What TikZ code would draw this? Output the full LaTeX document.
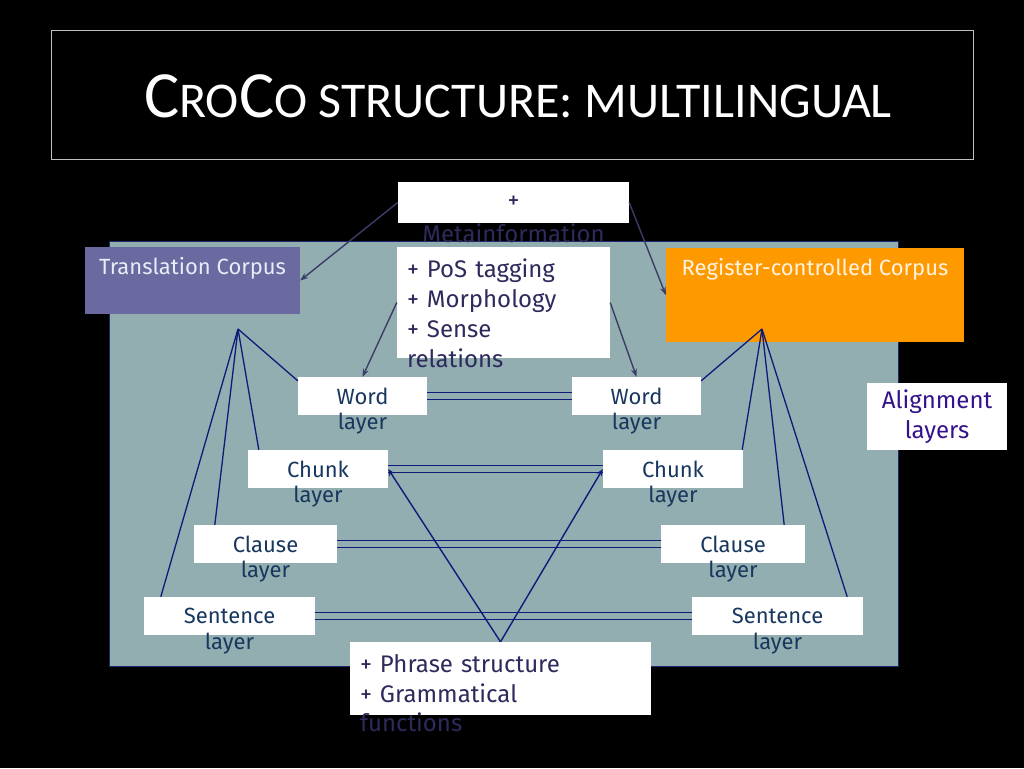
\documentclass[tikz,border=0pt]{standalone}
\usepackage{fontspec}
\setmainfont{Fira Sans}
\newfontfamily\titlefont{Carlito}
\usepackage{tikz}
\usetikzlibrary{arrows.meta}
\definecolor{panelteal}{HTML}{93AEB1}
\definecolor{panelline}{HTML}{1F2A6E}
\definecolor{transfill}{HTML}{6A69A0}
\definecolor{regfill}{HTML}{FF9900}
\definecolor{translabel}{HTML}{E6EEF7}
\definecolor{reglabel}{HTML}{FFF3E0}
\definecolor{layerblue}{HTML}{17375E}
\definecolor{notetext}{HTML}{2D2A5C}
\definecolor{aligntext}{HTML}{34148C}
\definecolor{arrowgrey}{HTML}{3B3D66}
\definecolor{navyline}{HTML}{101A78}
\newcommand{\titlecap}[1]{{\fontsize{66}{66}\selectfont #1}}
\newcommand{\titlesmall}[1]{{\fontsize{50}{50}\selectfont #1}}
\tikzstyle{titlebox} = [rectangle, draw=white!75!black, line width=1pt, minimum width=922pt, minimum height=128pt]
\tikzstyle{titletext} = [text=white, font=\titlefont, inner sep=0pt]
\tikzstyle{panel} = [rectangle, fill=panelteal, draw=panelline, line width=1pt, minimum width=789pt, minimum height=425pt]
\tikzstyle{corpus} = [rectangle, inner sep=0pt]
\tikzstyle{corpuslabel} = [anchor=north, yshift=-10pt, inner sep=0pt, font=\fontsize{22}{26}\selectfont]
\tikzstyle{note} = [rectangle, fill=white, inner sep=0pt, text=notetext, align=left, font=\fontsize{24}{30}\selectfont]
\tikzstyle{notelabel} = [inner sep=0pt, text=notetext, font=\fontsize{24}{30}\selectfont]
\tikzstyle{layer} = [rectangle, fill=white, minimum height=38pt, inner sep=0pt, text=layerblue, font=\fontsize{22}{26}\selectfont]
\tikzstyle{layerlabel} = [inner sep=0pt, label distance=-2pt, text=layerblue, font=\fontsize{22}{26}\selectfont]
\tikzstyle{arrow} = [-{Stealth[length=8pt, width=6pt]}, arrowgrey, line width=1.4pt]
\tikzstyle{phrasearrow} = [-{Stealth[length=7pt, width=6pt]}, navyline, line width=1.4pt]
\tikzstyle{fan} = [navyline, line width=1.3pt]
\tikzstyle{dblline} = [navyline, line width=1.6pt, double=panelteal, double distance=5.4pt]

\begin{document}
\begin{tikzpicture}[x=1pt, y=-1pt, node distance=275pt]
    \fill[black] (0,0) rectangle (1024,768);
    \useasboundingbox (0,0) rectangle (1024,768);

    \node (titlebox) [titlebox] at (512,95) {};
    \node (title) [titletext] at (518,96) {\titlecap{C}\titlesmall{RO}\titlecap{C}\titlesmall{O STRUCTURE: MULTILINGUAL}};
    \node (panel) [panel] at (503.5,453.5) {};

    \node (transcorp) [corpus, fill=transfill, minimum width=215pt, minimum height=67pt, label={[corpuslabel, text=translabel]north:Translation Corpus}] at (192.5,280.5) {};
    \node (regcorp) [corpus, fill=regfill, minimum width=298pt, minimum height=94pt, label={[corpuslabel, text=reglabel]north:Register-controlled Corpus}] at (815,295) {};

    \node (meta) [note, align=center, minimum width=231pt, minimum height=41pt, label={[notelabel, anchor=center, yshift=-10pt]south:Metainformation}] at (513.5,202.5) {+};
    \node (pos) [note, text width=193pt, minimum width=213pt, minimum height=111pt, label={[notelabel, anchor=west, xshift=10pt]south west:relations}] at (503.5,302.5) {+ PoS tagging\\+ Morphology\\+ Sense\par\vspace*{8pt}};
    \node (phrase) [note, text width=281pt, minimum width=301pt, minimum height=73pt, label={[notelabel, anchor=west, xshift=10pt, yshift=-7pt]south west:functions}] at (500.5,678.5) {+ Phrase structure\\+ Grammatical};
    \node (alignlayers) [note, align=center, text=aligntext, minimum width=140pt, minimum height=67pt] at (937,416.5) {Alignment\\layers};

    \node (wordL) [layer, minimum width=129pt, label={[layerlabel]below:layer}] at (362.5,396) {Word};
    \node (wordR) [layer, minimum width=129pt, right of=wordL, xshift=-1pt, label={[layerlabel]below:layer}] {Word};
    \node (chunkL) [layer, minimum width=140pt, label={[layerlabel]below:layer}] at (318,469) {Chunk};
    \node (chunkR) [layer, minimum width=140pt, right of=chunkL, xshift=80pt, label={[layerlabel]below:layer}] {Chunk};
    \node (clauseL) [layer, minimum width=143pt, label={[layerlabel]below:layer}] at (265.5,544) {Clause};
    \node (clauseR) [layer, minimum width=144pt, right of=clauseL, xshift=192.5pt, label={[layerlabel]below:layer}] {Clause};
    \node (sentenceL) [layer, minimum width=171pt, label={[layerlabel]below:layer}] at (229.5,616) {Sentence};
    \node (sentenceR) [layer, minimum width=171pt, right of=sentenceL, xshift=273pt, label={[layerlabel]below:layer}] {Sentence};

    \coordinate (transfan) at (238,329);
    \coordinate (regfan) at (762,329);

    \draw [arrow] (meta.west) -- (transcorp.east);
    \draw [arrow] (meta.east) -- (regcorp.west);
    \draw [arrow] (pos.west) -- (wordL.north);
    \draw [arrow] (pos.east) -- (wordR.north);

    \draw [fan] (transfan) -- ([yshift=-4pt]wordL.north west);
    \draw [fan] (transfan) -- ([xshift=11pt]chunkL.north west);
    \draw [fan] (transfan) -- ([xshift=21pt]clauseL.north west);
    \draw [fan] (transfan) -- ([xshift=17pt]sentenceL.north west);
    \draw [fan] (regfan) -- ([yshift=-4pt]wordR.north east);
    \draw [fan] (regfan) -- ([xshift=-1pt]chunkR.north east);
    \draw [fan] (regfan) -- ([xshift=-21pt]clauseR.north east);
    \draw [fan] (regfan) -- ([xshift=-16pt]sentenceR.north east);

    \draw [dblline] (wordL) -- (wordR);
    \draw [dblline] (chunkL) -- (chunkR);
    \draw [dblline] (clauseL) -- (clauseR);
    \draw [dblline] (sentenceL) -- (sentenceR);

    \draw [phrasearrow] (phrase.north) -- (chunkL.east);
    \draw [phrasearrow] (phrase.north) -- (chunkR.west);
\end{tikzpicture}
\end{document}
